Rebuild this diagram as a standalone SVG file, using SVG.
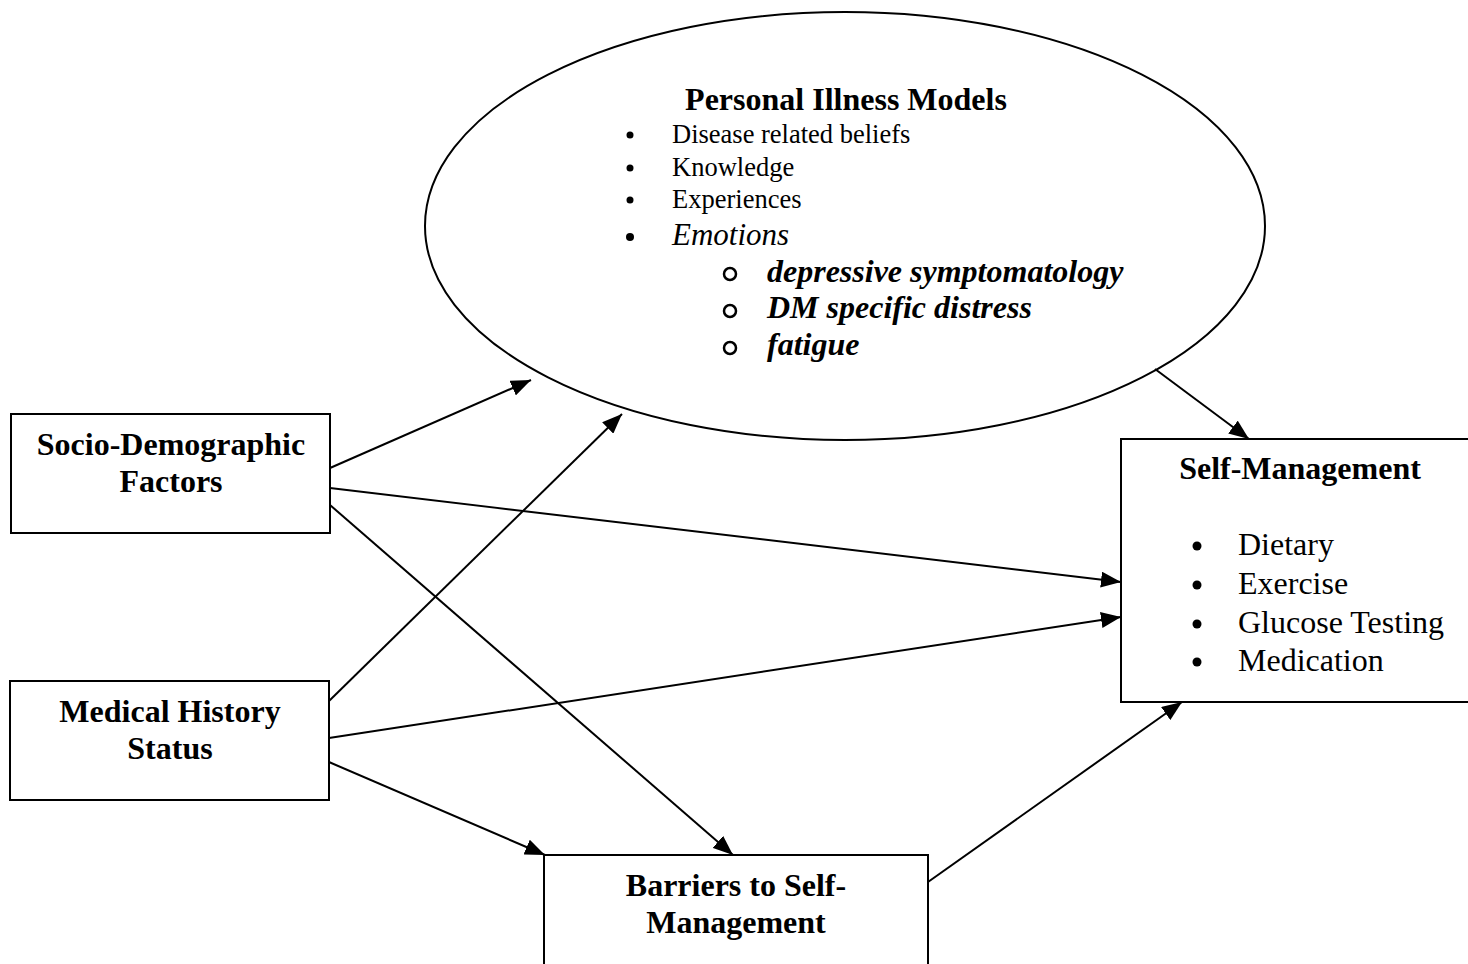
<svg xmlns="http://www.w3.org/2000/svg" width="1468" height="964" viewBox="0 0 1468 964">
<style>
.box{fill:#fff;stroke:#000;stroke-width:2}
.t{font-family:"Liberation Serif","Times New Roman",serif;fill:#000}
.h{font-weight:bold;font-size:32px;text-anchor:middle}
.li{font-size:26.5px}
.lb{font-size:32px}
.bi{font-size:32px;font-weight:bold;font-style:italic}
.c{fill:none;stroke:#000;stroke-width:2}
</style>
<defs>
<marker id="ah" markerUnits="userSpaceOnUse" markerWidth="22" markerHeight="16" refX="20" refY="8" orient="auto">
<path d="M0,0 L20,8 L0,16 z" fill="#000"/>
</marker>
</defs>
<rect width="1468" height="964" fill="#fff"/>
<g id="personal-illness-models">
<ellipse cx="845" cy="226" rx="420" ry="214" fill="#fff" stroke="#000" stroke-width="2"/>
<text class="t h" x="846" y="110">Personal Illness Models</text>
<circle cx="630" cy="135" r="3.5"/><text class="t li" x="672" y="143">Disease related beliefs</text>
<circle cx="630" cy="168" r="3.5"/><text class="t li" x="672" y="176">Knowledge</text>
<circle cx="630" cy="200" r="3.5"/><text class="t li" x="672" y="208">Experiences</text>
<circle cx="630" cy="237" r="4"/><text class="t" x="672" y="245" font-size="31" font-style="italic">Emotions</text>
<circle cx="730" cy="274" r="6" fill="none" stroke="#000" stroke-width="2.5"/><text class="t bi" x="767" y="282">depressive symptomatology</text>
<circle cx="730" cy="311" r="6" fill="none" stroke="#000" stroke-width="2.5"/><text class="t bi" x="767" y="318">DM specific distress</text>
<circle cx="730" cy="348" r="6" fill="none" stroke="#000" stroke-width="2.5"/><text class="t bi" x="767" y="355">fatigue</text>
</g>
<g id="socio-demographic">
<rect class="box" x="11" y="414" width="319" height="119"/>
<text class="t h" x="171" y="455">Socio-Demographic</text>
<text class="t h" x="171" y="492">Factors</text>
</g>
<g id="medical-history">
<rect class="box" x="10" y="681" width="319" height="119"/>
<text class="t h" x="170" y="722">Medical History</text>
<text class="t h" x="170" y="759">Status</text>
</g>
<g id="self-management">
<rect class="box" x="1121" y="439" width="350" height="263"/>
<text class="t h" x="1300" y="479">Self-Management</text>
<circle cx="1197" cy="546" r="4.5"/><text class="t lb" x="1238" y="555">Dietary</text>
<circle cx="1197" cy="585" r="4.5"/><text class="t lb" x="1238" y="594">Exercise</text>
<circle cx="1197" cy="624" r="4.5"/><text class="t lb" x="1238" y="633">Glucose Testing</text>
<circle cx="1197" cy="662" r="4.5"/><text class="t lb" x="1238" y="671">Medication</text>
</g>
<g id="barriers">
<rect class="box" x="544" y="855" width="384" height="120"/>
<text class="t h" x="736" y="896">Barriers to Self-</text>
<text class="t h" x="736" y="933">Management</text>
</g>
<g id="connectors">
<line class="c" x1="330" y1="468" x2="531" y2="380" marker-end="url(#ah)"/>
<line class="c" x1="330" y1="488" x2="1121" y2="582" marker-end="url(#ah)"/>
<line class="c" x1="330" y1="505" x2="733" y2="855" marker-end="url(#ah)"/>
<line class="c" x1="329" y1="701" x2="622" y2="414" marker-end="url(#ah)"/>
<line class="c" x1="329" y1="738" x2="1121" y2="617" marker-end="url(#ah)"/>
<line class="c" x1="329" y1="762" x2="545" y2="855" marker-end="url(#ah)"/>
<line class="c" x1="1155" y1="369" x2="1249" y2="439" marker-end="url(#ah)"/>
<line class="c" x1="928" y1="882" x2="1182" y2="702" marker-end="url(#ah)"/>
</g>
</svg>
